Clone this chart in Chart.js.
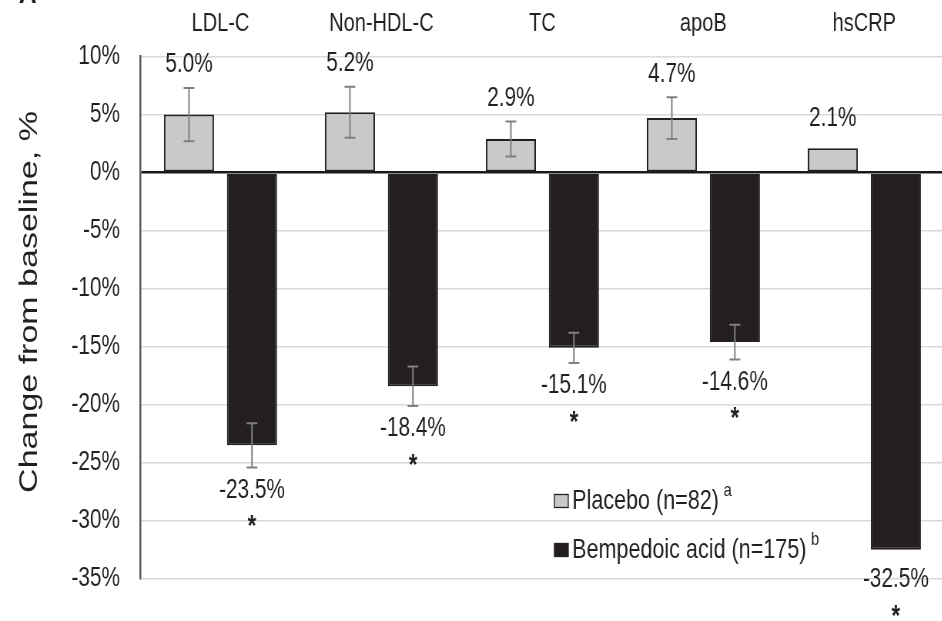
<!DOCTYPE html>
<html>
<head>
<meta charset="utf-8">
<script src="https://cdn.jsdelivr.net/npm/chart.js@4.4.1/dist/chart.umd.min.js"></script>
<style>
  html, body { margin: 0; padding: 0; background: #ffffff; overflow: hidden; }
  /* The figure is laid out on a wider sheet and condensed horizontally. */
  #sheet {
    position: absolute; left: 0; top: 0;
    width: 1227px; height: 621px;
    transform: scaleX(0.77); transform-origin: 0 0;
  }
</style>
</head>
<body>
<div id="sheet"><canvas id="chart"></canvas></div>
<script>
const categories = ['LDL-C', 'Non-HDL-C', 'TC', 'apoB', 'hsCRP'];
const placeboValues = [5.0, 5.2, 2.9, 4.7, 2.1];
const bempedoicValues = [-23.5, -18.4, -15.1, -14.6, -32.5];
const placeboErrors = [2.3, 2.2, 1.5, 1.8, null];
const bempedoicErrors = [1.9, 1.7, 1.3, 1.5, null];
const placeboSignificant = [false, false, false, false, false];
const bempedoicSignificant = [true, true, true, true, true];
const seriesNames = ['Placebo (n=82)', 'Bempedoic acid (n=175)'];
const seriesNotes = ['a', 'b'];
const yMin = -35, yMax = 10, yStep = 5;
const yTitle = 'Change from baseline, %';

const FONT = '"Liberation Sans", Arial, Helvetica, sans-serif';
const INK = '#231f20';
const PLACEBO_FILL = '#c8c9cb';

const annotate = {
  id: 'annotate',
  afterDatasetsDraw(chart) {
    const { ctx } = chart;
    const y = chart.scales.y;
    ctx.save();
    chart.data.datasets.forEach((ds, di) => {
      const meta = chart.getDatasetMeta(di);
      meta.data.forEach((bar, i) => {
        const v = ds.data[i];
        const e = ds.errors[i];
        const x = bar.x;
        let end = y.getPixelForValue(v);
        if (e != null) {
          const hi = y.getPixelForValue(v + e);
          const lo = y.getPixelForValue(v - e);
          ctx.strokeStyle = '#808080';
          ctx.lineWidth = 2;
          ctx.beginPath();
          ctx.moveTo(x, hi); ctx.lineTo(x, lo);
          ctx.moveTo(x - 7, hi); ctx.lineTo(x + 7, hi);
          ctx.moveTo(x - 7, lo); ctx.lineTo(x + 7, lo);
          ctx.stroke();
          end = v >= 0 ? hi : lo;
        }
        const gap = e != null ? 23 : 30;
        const ly = v >= 0 ? end - gap : end + gap;
        ctx.fillStyle = INK;
        ctx.textAlign = 'center';
        ctx.textBaseline = 'middle';
        ctx.font = '27px ' + FONT;
        ctx.fillText(v.toFixed(1) + '%', x, ly);
        if (ds.significant[i]) {
          ctx.font = 'bold 29px ' + FONT;
          ctx.textBaseline = 'alphabetic';
          ctx.fillText('*', x, ly + 45);
        }
      });
    });
    ctx.restore();
  },
  afterDraw(chart) {
    const { ctx } = chart;
    ctx.save();
    ctx.fillStyle = INK;

    // vertical axis title
    ctx.save();
    ctx.translate(39, 302);
    ctx.rotate(-Math.PI / 2);
    ctx.font = '34px ' + FONT;
    ctx.textAlign = 'center';
    ctx.textBaseline = 'middle';
    ctx.fillText(yTitle, 0, 0);
    ctx.restore();

    // panel letter
    ctx.font = 'bold 32px ' + FONT;
    ctx.textAlign = 'center';
    ctx.textBaseline = 'alphabetic';
    ctx.fillText('A', 36, 3);

    // legend
    const rows = [501, 550];
    chart.data.datasets.forEach((ds, di) => {
      const cy = rows[di];
      ctx.fillStyle = ds.backgroundColor;
      ctx.fillRect(720, cy - 6.5, 18, 13);
      ctx.strokeStyle = INK;
      ctx.lineWidth = 1.3;
      ctx.strokeRect(720, cy - 6.5, 18, 13);
      ctx.fillStyle = INK;
      ctx.font = '28px ' + FONT;
      ctx.textAlign = 'left';
      ctx.textBaseline = 'middle';
      ctx.fillText(ds.label, 743, cy);
      const w = ctx.measureText(ds.label).width;
      ctx.font = '19px ' + FONT;
      ctx.textBaseline = 'alphabetic';
      ctx.fillText(seriesNotes[di], 743 + w + 6, cy - 5);
    });
    ctx.restore();
  }
};

new Chart(document.getElementById('chart'), {
  type: 'bar',
  data: {
    labels: categories,
    datasets: [
      {
        label: seriesNames[0],
        data: placeboValues,
        errors: placeboErrors,
        significant: placeboSignificant,
        backgroundColor: PLACEBO_FILL,
        borderColor: INK,
        borderWidth: 2,
        borderSkipped: false,
        categoryPercentage: 0.783,
        barPercentage: 0.795
      },
      {
        label: seriesNames[1],
        data: bempedoicValues,
        errors: bempedoicErrors,
        significant: bempedoicSignificant,
        backgroundColor: INK,
        borderColor: INK,
        borderWidth: 2,
        borderSkipped: false,
        categoryPercentage: 0.783,
        barPercentage: 0.795
      }
    ]
  },
  options: {
    responsive: true,
    maintainAspectRatio: false,
    animation: false,
    layout: { padding: { left: 0, right: 0, top: 0, bottom: 36 } },
    plugins: {
      legend: { display: false },
      tooltip: { enabled: false }
    },
    scales: {
      x: {
        position: 'top',
        grid: { display: false, drawTicks: false },
        border: { display: false },
        ticks: {
          color: INK,
          font: { family: FONT, size: 26 },
          padding: 17,
          maxRotation: 0
        },
        afterFit(scale) { scale.height = 56.6; }
      },
      y: {
        min: yMin,
        max: yMax,
        grid: {
          drawTicks: false,
          color: (c) => (c.tick && c.tick.value === 0 ? '#1a1a1a' : '#d9d9d9'),
          lineWidth: (c) => (c.tick && c.tick.value === 0 ? 2.5 : 1.5)
        },
        border: { display: true, color: '#5a5a5a', width: 2.5 },
        ticks: {
          stepSize: yStep,
          color: INK,
          font: { family: FONT, size: 27 },
          padding: 26,
          callback: (v) => v + '%'
        },
        afterFit(scale) { scale.width = 181.8; }
      }
    }
  },
  plugins: [annotate]
});
</script>
</body>
</html>
